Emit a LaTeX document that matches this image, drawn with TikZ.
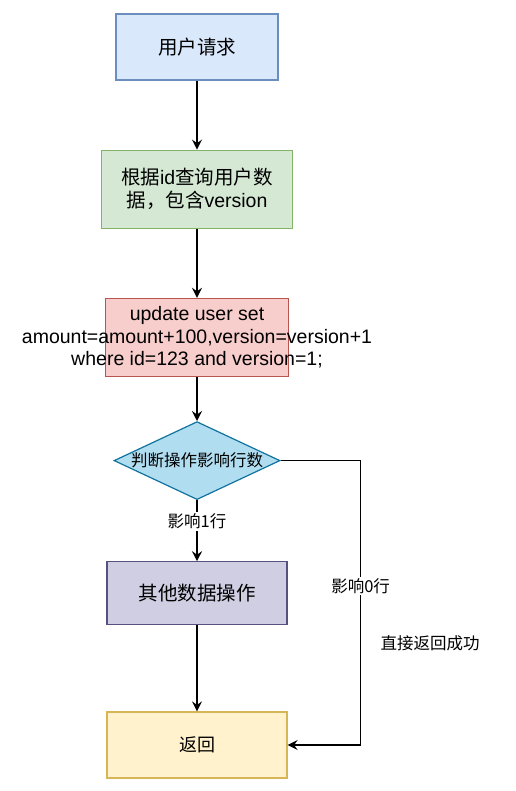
\documentclass[tikz,border=0pt]{standalone}
\usepackage{fontspec}
\setmainfont{Noto Sans CJK SC}
\newfontfamily\latinfont{Liberation Sans}
\usepackage{tikz}
\usetikzlibrary{positioning, shapes.geometric, arrows.meta}
\definecolor{reqfill}{HTML}{DAE8FC}
\definecolor{reqline}{HTML}{6C8EBF}
\definecolor{queryfill}{HTML}{D5E8D4}
\definecolor{queryline}{HTML}{82B366}
\definecolor{sqlfill}{HTML}{F8CECC}
\definecolor{sqlline}{HTML}{B85450}
\definecolor{decfill}{HTML}{B1DDF0}
\definecolor{decline}{HTML}{10739E}
\definecolor{opfill}{HTML}{D0CEE2}
\definecolor{opline}{HTML}{56517E}
\definecolor{retfill}{HTML}{FFF2CC}
\definecolor{retline}{HTML}{D6B656}
\tikzset{
  box/.style={rectangle, line width=1.2pt, align=center, inner sep=0pt, font=\fontsize{19.5}{23}\selectfont},
  reqbox/.style={box, draw=reqline, fill=reqfill, minimum width=162pt, minimum height=66pt},
  querybox/.style={box, draw=queryline, fill=queryfill, minimum width=191pt, minimum height=78pt},
  sqlbox/.style={box, draw=sqlline, fill=sqlfill, minimum width=183pt, minimum height=78pt},
  sqltext/.style={align=center, inner sep=0pt, font=\latinfont\fontsize{19.5}{22.5}\selectfont},
  decision/.style={diamond, draw=decline, fill=decfill, line width=1.2pt, inner sep=0pt, minimum width=166pt, minimum height=78pt},
  dectext/.style={inner sep=0pt, font=\fontsize{16.5}{20}\selectfont},
  opbox/.style={box, draw=opline, fill=opfill, minimum width=180pt, minimum height=63pt},
  retbox/.style={box, draw=retline, fill=retfill, minimum width=180pt, minimum height=66pt, font=\fontsize{18}{22}\selectfont},
  edgelabel/.style={fill=white, inner sep=1.5pt, font=\fontsize{16.5}{20}\selectfont},
  arrow/.style={line width=1.5pt, -{Stealth[length=10pt, width=10pt, inset=3.5pt]}},
}

\begin{document}
\begin{tikzpicture}[node distance=69pt]
  \useasboundingbox (0,0) rectangle (515pt,-791pt);

  \node[reqbox] (req) at (197pt,-47pt) {用户请求};

  \node[querybox, below=of req] (query) {根据{\latinfont id}查询用户数\\据，包含{\latinfont version}};

  \node[sqlbox, below=of query, label={[sqltext]center:{update user set\\amount=amount+100,version=version+1\\where id=123 and version=1;}}] (sql) {};

  \node[decision, below=44pt of sql, label={[dectext]center:判断操作影响行数}] (dec) {};

  \node[opbox, below=61pt of dec] (op) {其他数据操作};

  \node[retbox, below=86pt of op] (ret) {返回};

  \coordinate[right=73pt of ret.east] (turn);

  \draw[arrow] (req) -- (query);
  \draw[arrow] (query) -- (sql);
  \draw[arrow] (sql) -- (dec);
  \draw[arrow] (dec) -- node[edgelabel, pos=0.35] {影响1行} (op);
  \draw[arrow] (op) -- (ret);
  \draw[arrow] (dec.east) -| node[edgelabel, pos=0.72] {影响0行} (turn) -- (ret.east);

  \node[edgelabel] (note) at (430pt,-643pt) {直接返回成功};
\end{tikzpicture}
\end{document}
